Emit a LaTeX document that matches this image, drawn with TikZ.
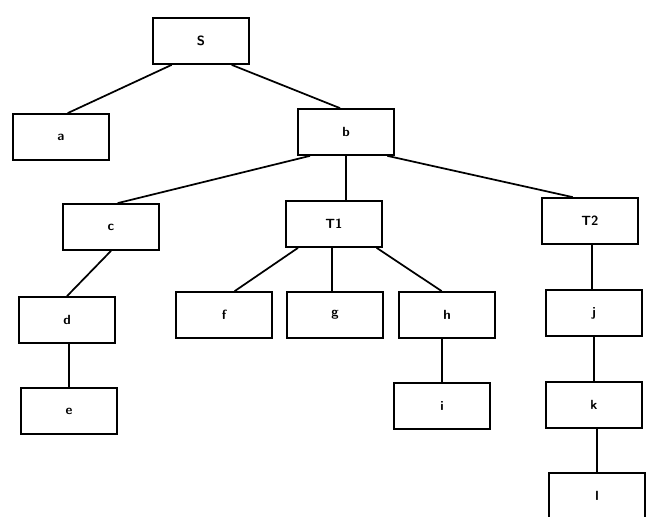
\documentclass[tikz,border=0pt]{standalone}
\begin{document}
\begin{tikzpicture}[x=0.75pt,y=-0.75pt,
  box/.style={draw, line width=1.3pt, minimum width=72pt, minimum height=34.5pt,
    inner sep=0pt, font=\sffamily\bfseries},
  edge/.style={line width=1.3pt}]
\useasboundingbox (0,0) rectangle (647,517);
% tree nodes
\node[box] (S)  at (201,41)  {S};
\node[box] (a)  at (61,137)  {a};
\node[box] (b)  at (346,132) {b};
\node[box] (c)  at (111,227) {c};
\node[box] (T1) at (334,224) {T1};
\node[box] (T2) at (590,221) {T2};
\node[box] (d)  at (67,320)  {d};
\node[box] (f)  at (224,315) {f};
\node[box] (g)  at (335,315) {g};
\node[box] (h)  at (447,315) {h};
\node[box] (j)  at (594,313) {j};
\node[box] (e)  at (69,411)  {e};
\node[box] (i)  at (442,406) {i};
\node[box] (k)  at (594,405) {k};
\node[box] (l)  at (597,496) {l};
% connectors
\draw[edge] ([xshift=-22pt]S.south) -- ([xshift=5pt]a.north);
\draw[edge] ([xshift=23pt]S.south) -- ([xshift=-4.5pt]b.north);
\draw[edge] ([xshift=-27pt]b.south) -- ([xshift=5pt]c.north);
\draw[edge] (b.south) -- (b.south |- T1.north);
\draw[edge] ([xshift=31pt]b.south) -- ([xshift=-13pt]T2.north);
\draw[edge] ([xshift=-27pt]T1.south) -- ([xshift=8pt]f.north);
\draw[edge] ([xshift=-1.5pt]T1.south) -- ([xshift=-1.5pt]T1.south |- g.north);
\draw[edge] ([xshift=32pt]T1.south) -- ([xshift=-4pt]h.north);
\draw[edge] (c.south) -- (d.north);
\draw[edge] (e.north |- d.south) -- (e.north);
\draw[edge] (i.north |- h.south) -- (i.north);
\draw[edge] ([xshift=1.5pt]T2.south) -- ([xshift=1.5pt]T2.south |- j.north);
\draw[edge] (j.south) -- (k.north);
\draw[edge] (l.north |- k.south) -- (l.north);
\end{tikzpicture}
\end{document}
